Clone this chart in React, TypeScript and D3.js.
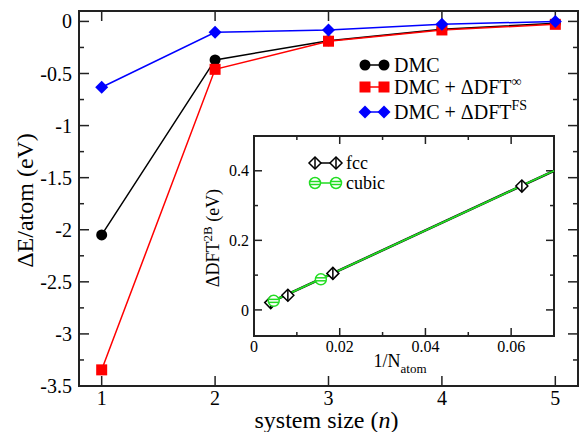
import React from "react";
import * as d3 from "d3";

// main panel data: system size n vs energy per atom
const sizes = [1, 2, 3, 4, 5];
const dmc = [-2.05, -0.37, -0.185, -0.075, -0.018];
const dmcInf = [-3.345, -0.46, -0.19, -0.082, -0.028];
const dmcFS = [-0.632, -0.105, -0.083, -0.028, 0.0];

// inset data: 1/N_atom vs ΔDFT^2B
const fccX = [0.0039, 0.0079, 0.0184, 0.0625];
const fccY = [0.021, 0.042, 0.105, 0.356];
const cubicX = [0.0046, 0.0156];
const cubicY = [0.026, 0.088];
const fitX = [0.004, 0.07];
const fitY = [0.023, 0.4];

const mainYTicks = [0, -0.5, -1, -1.5, -2, -2.5, -3, -3.5];
const mainYMinor = [-0.25, -0.75, -1.25, -1.75, -2.25, -2.75, -3.25];
const insetXTicks = [0, 0.02, 0.04, 0.06];
const insetXMinor = [0.01, 0.03, 0.05];
const insetYTicks = [0, 0.2, 0.4];
const insetYMinor = [0.1, 0.3];

const FONT = "Liberation Serif, DejaVu Serif, serif";

const W = 580;
const H = 432;
const M = { left: 79, right: 578, top: 11, bottom: 386 };
const I = { left: 254, right: 554, top: 136, bottom: 336 };

const x = d3.scaleLinear().domain([0.8, 5.2]).range([M.left, M.right]);
const y = d3.scaleLinear().domain([-3.5, 0.1]).range([M.bottom, M.top]);
const ix = d3.scaleLinear().domain([0, 0.07]).range([I.left, I.right]);
const iy = d3.scaleLinear().domain([-0.075, 0.5]).range([I.bottom, I.top]);

const fmt = (v: number) => String(+v.toFixed(3));

const Diamond = ({ cx, cy, r, fill }: any) => (
  <path d={`M${cx},${cy - r}L${cx + r},${cy}L${cx},${cy + r}L${cx - r},${cy}Z`} fill={fill} />
);

const OpenDiamond = ({ cx, cy }: any) => (
  <g stroke="#000" strokeWidth={1.5} fill="white">
    <path d={`M${cx},${cy - 6}L${cx + 6},${cy}L${cx},${cy + 6}L${cx - 6},${cy}Z`} />
    <line x1={cx} x2={cx} y1={cy - 6} y2={cy + 6} />
  </g>
);

const OpenCircle = ({ cx, cy }: any) => (
  <g stroke="#22dd22" strokeWidth={1.5} fill="white">
    <circle cx={cx} cy={cy} r={5.5} />
    <line x1={cx - 5} x2={cx + 5} y1={cy - 1.5} y2={cy - 1.5} />
    <line x1={cx - 5} x2={cx + 5} y1={cy + 1.5} y2={cy + 1.5} />
  </g>
);

export default function App() {
  const line = (xs: number[], ys: number[], sx: any, sy: any) =>
    d3.line<number>().x((_, i) => sx(xs[i])).y((_, i) => sy(ys[i]))(xs) || "";

  return (
    <svg width={W} height={H} style={{ position: "absolute", left: 0, top: 0, background: "white", fontFamily: FONT }}>
      {/* main frame */}
      <rect x={M.left} y={M.top} width={M.right - M.left} height={M.bottom - M.top} fill="white" stroke="#222" strokeWidth={2} />

      {/* main y ticks */}
      {mainYTicks.map((t) => (
        <g key={"my" + t}>
          <line x1={M.left} x2={M.left + 10} y1={y(t)} y2={y(t)} stroke="#222" strokeWidth={1.5} />
          <line x1={M.right} x2={M.right - 10} y1={y(t)} y2={y(t)} stroke="#222" strokeWidth={1.5} />
          <text x={M.left - 7} y={y(t)} dy="0.35em" textAnchor="end" fontSize={20}>{fmt(t)}</text>
        </g>
      ))}
      {mainYMinor.map((t) => (
        <g key={"mym" + t}>
          <line x1={M.left} x2={M.left + 5} y1={y(t)} y2={y(t)} stroke="#222" strokeWidth={1.5} />
          <line x1={M.right} x2={M.right - 5} y1={y(t)} y2={y(t)} stroke="#222" strokeWidth={1.5} />
        </g>
      ))}
      {/* main x ticks */}
      {sizes.map((t) => (
        <g key={"mx" + t}>
          <line x1={x(t)} x2={x(t)} y1={M.bottom} y2={M.bottom - 10} stroke="#222" strokeWidth={1.5} />
          <line x1={x(t)} x2={x(t)} y1={M.top} y2={M.top + 10} stroke="#222" strokeWidth={1.5} />
          <text x={x(t)} y={M.bottom + 19} textAnchor="middle" fontSize={20}>{t}</text>
        </g>
      ))}

      {/* axis titles */}
      <text transform={`translate(33,${(M.top + M.bottom) / 2 + 2}) rotate(-90)`} textAnchor="middle" fontSize={24}>ΔE/atom (eV)</text>
      <text x={(M.left + M.right) / 2 - 2} y={428} textAnchor="middle" fontSize={24}>
        system size (<tspan fontStyle="italic">n</tspan>)
      </text>

      {/* series */}
      <path d={line(sizes, dmc, x, y)} fill="none" stroke="#000" strokeWidth={1.5} />
      <path d={line(sizes, dmcInf, x, y)} fill="none" stroke="#ff0000" strokeWidth={1.5} />
      <path d={line(sizes, dmcFS, x, y)} fill="none" stroke="#0000ff" strokeWidth={1.5} />
      {sizes.map((s, i) => (
        <g key={"pt" + s}>
          <circle cx={x(s)} cy={y(dmc[i])} r={5.5} fill="#000" />
          <rect x={x(s) - 5.5} y={y(dmcInf[i]) - 5.5} width={11} height={11} fill="#ff0000" />
          <Diamond cx={x(s)} cy={y(dmcFS[i])} r={6.5} fill="#0000ff" />
        </g>
      ))}

      {/* main legend */}
      <g fontSize={20}>
        <line x1={365} x2={384} y1={65} y2={65} stroke="#000" strokeWidth={1.5} />
        <circle cx={365} cy={65} r={5.5} fill="#000" />
        <circle cx={384} cy={65} r={5.5} fill="#000" />
        <text x={394} y={65} dy="0.35em">DMC</text>

        <line x1={365} x2={384} y1={87} y2={87} stroke="#ff0000" strokeWidth={1.5} />
        <rect x={359.5} y={81.5} width={11} height={11} fill="#ff0000" />
        <rect x={378.5} y={81.5} width={11} height={11} fill="#ff0000" />
        <text x={394} y={87} dy="0.35em">DMC + ΔDFT<tspan dy={-8} fontSize={14}>∞</tspan></text>

        <line x1={365} x2={384} y1={112} y2={112} stroke="#0000ff" strokeWidth={1.5} />
        <Diamond cx={365} cy={112} r={6.5} fill="#0000ff" />
        <Diamond cx={384} cy={112} r={6.5} fill="#0000ff" />
        <text x={394} y={112} dy="0.35em">DMC + ΔDFT<tspan dy={-9} fontSize={14}>FS</tspan></text>
      </g>

      {/* inset */}
      <rect x={I.left} y={I.top} width={I.right - I.left} height={I.bottom - I.top} fill="white" stroke="#222" strokeWidth={2} />
      {insetXTicks.map((t) => (
        <g key={"ix" + t}>
          <line x1={ix(t)} x2={ix(t)} y1={I.bottom} y2={I.bottom - 8} stroke="#222" strokeWidth={1.5} />
          <line x1={ix(t)} x2={ix(t)} y1={I.top} y2={I.top + 8} stroke="#222" strokeWidth={1.5} />
          <text x={ix(t)} y={I.bottom + 16} textAnchor="middle" fontSize={16}>{fmt(t)}</text>
        </g>
      ))}
      {insetXMinor.map((t) => (
        <g key={"ixm" + t}>
          <line x1={ix(t)} x2={ix(t)} y1={I.bottom} y2={I.bottom - 4} stroke="#222" strokeWidth={1.5} />
          <line x1={ix(t)} x2={ix(t)} y1={I.top} y2={I.top + 4} stroke="#222" strokeWidth={1.5} />
        </g>
      ))}
      {insetYTicks.map((t) => (
        <g key={"iy" + t}>
          <line x1={I.left} x2={I.left + 8} y1={iy(t)} y2={iy(t)} stroke="#222" strokeWidth={1.5} />
          <line x1={I.right} x2={I.right - 8} y1={iy(t)} y2={iy(t)} stroke="#222" strokeWidth={1.5} />
          <text x={I.left - 5} y={iy(t)} dy="0.35em" textAnchor="end" fontSize={16}>{fmt(t)}</text>
        </g>
      ))}
      {insetYMinor.map((t) => (
        <g key={"iym" + t}>
          <line x1={I.left} x2={I.left + 4} y1={iy(t)} y2={iy(t)} stroke="#222" strokeWidth={1.5} />
          <line x1={I.right} x2={I.right - 4} y1={iy(t)} y2={iy(t)} stroke="#222" strokeWidth={1.5} />
        </g>
      ))}
      <text transform={`translate(219,${(I.top + I.bottom) / 2 + 2}) rotate(-90)`} textAnchor="middle" fontSize={18}>
        ΔDFT<tspan dy={-7} fontSize={13}>2B</tspan><tspan dy={7}> (eV)</tspan>
      </text>
      <text x={400} y={367} textAnchor="middle" fontSize={18}>
        1/N<tspan dy={6} fontSize={13}>atom</tspan>
      </text>

      <path d={line(fitX, fitY, ix, iy)} fill="none" stroke="#000" strokeWidth={2.5} />
      <path d={line(fitX, fitY, ix, iy)} fill="none" stroke="#22dd22" strokeWidth={1.8} />
      {fccX.map((v, i) => <OpenDiamond key={"f" + i} cx={ix(v)} cy={iy(fccY[i])} />)}
      {cubicX.map((v, i) => <OpenCircle key={"c" + i} cx={ix(v)} cy={iy(cubicY[i])} />)}

      {/* inset legend */}
      <g fontSize={18}>
        <line x1={315} x2={336} y1={163} y2={163} stroke="#000" strokeWidth={1.5} />
        <OpenDiamond cx={315} cy={163} />
        <OpenDiamond cx={336} cy={163} />
        <text x={346} y={163} dy="0.35em">fcc</text>
        <line x1={315} x2={336} y1={183} y2={183} stroke="#22dd22" strokeWidth={1.5} />
        <OpenCircle cx={315} cy={183} />
        <OpenCircle cx={336} cy={183} />
        <text x={346} y={183} dy="0.35em">cubic</text>
      </g>
    </svg>
  );
}
